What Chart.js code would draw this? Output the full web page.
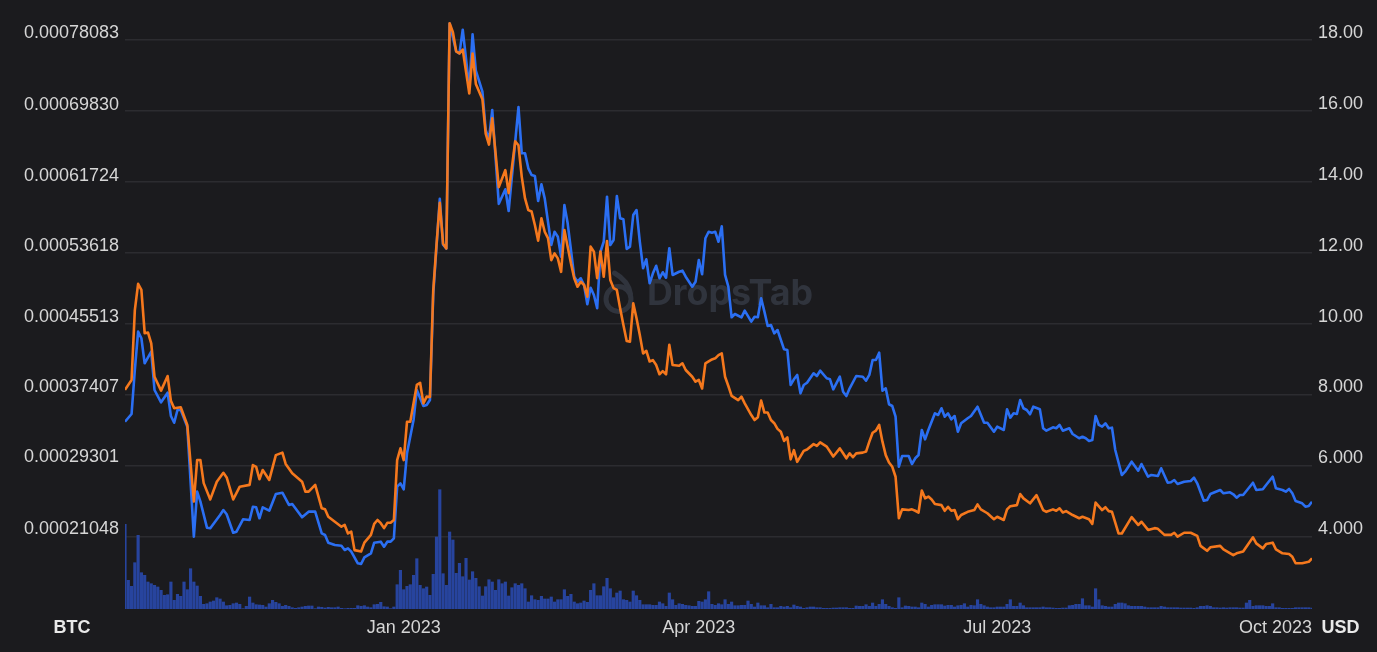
<!DOCTYPE html>
<html>
<head>
<meta charset="utf-8">
<script src="https://cdn.jsdelivr.net/npm/chart.js@4.4.1/dist/chart.umd.min.js"></script>
<style>
  html, body { margin: 0; padding: 0; background: #1b1b1e; }
  #wrap { width: 1377px; height: 652px; position: relative; }
</style>
</head>
<body>
<div id="wrap"><canvas id="c"></canvas></div>
<script>
// ---- data ----
const startDate = '2022-10-08';   // day 0 of the series

// price in USD (orange), day offsets from startDate
const usdDays = [0,2,3,4,5,6,7,8,9,11,13,14,15,17,19,21,22,23,24,26,28,30,31,33,35,38,39,40,41,42,44,46,48,49,51,54,55,56,58,60,61,62,64,66,67,68,69,70,72,73,75,76,77,78,79,80,81,82,83,84,85,86,87,88,89,90,91,92,93,94,95,96,97,98,99,100,101,102,103,105,106,107,109,110,111,112,114,116,117,119,120,121,122,123,124,125,126,127,128,129,130,131,132,133,134,135,136,137,138,139,140,141,142,143,144,145,146,147,148,149,150,151,152,153,154,155,156,157,158,159,160,161,162,163,164,165,166,167,169,170,171,173,174,175,176,177,179,180,181,182,183,184,185,187,188,189,191,192,193,194,195,196,197,198,199,200,201,202,203,204,205,207,208,210,211,212,214,215,216,218,219,220,221,222,223,225,226,227,228,229,230,231,232,233,234,235,236,237,239,240,241,242,243,244,245,246,247,249,250,251,252,253,254,255,257,259,260,261,263,265,266,268,269,270,272,273,274,276,278,279,280,281,283,284,285,286,287,289,291,292,294,295,296,298,299,300,301,303,304,307,309,310,312,314,315,317,319,320,321,323,325,327,328,330,331,334,335,338,339,341,344,345,347,348,350,351,353,355,356,357,359,361,362];
const usdPrice = [8.13,8.41,10.38,11.12,10.95,9.73,9.75,9.44,8.50,8.11,8.52,7.82,7.61,7.64,7.14,4.98,6.15,6.15,5.50,5.04,5.54,5.79,5.66,5.04,5.40,5.45,6.01,5.96,5.61,5.87,5.59,6.29,6.36,6.04,5.78,5.54,5.26,5.26,5.45,4.79,4.76,4.55,4.41,4.27,4.32,4.08,4.13,3.61,3.57,3.82,4.04,4.35,4.46,4.37,4.23,4.38,4.38,4.46,6.15,6.48,6.15,7.23,7.23,7.75,8.27,8.33,7.75,7.94,7.93,10.93,12.23,13.41,12.25,12.12,18.47,18.22,17.68,17.62,17.73,16.49,17.62,16.76,16.33,15.36,15.05,15.79,13.85,14.33,13.68,15.14,15.03,14.14,13.53,13.20,13.16,12.78,12.34,12.97,12.59,12.41,11.79,11.98,11.84,11.46,12.64,12.17,11.70,11.28,11.04,11.18,11.09,10.76,12.17,12.03,11.28,12.03,11.32,12.33,11.23,11.00,10.95,10.43,9.96,9.51,9.49,10.57,10.15,9.68,9.16,9.23,8.93,8.97,8.83,8.57,8.66,8.57,9.40,8.83,8.81,8.88,8.69,8.50,8.36,8.41,8.17,8.88,8.99,9.02,9.11,9.16,8.50,8.24,7.96,7.84,7.94,7.75,7.42,7.28,7.36,7.83,7.49,7.49,7.28,7.19,7.03,6.95,6.69,6.79,6.17,6.43,6.10,6.41,6.45,6.60,6.55,6.65,6.53,6.39,6.25,6.48,6.34,6.20,6.34,6.23,6.34,6.36,6.39,6.67,6.92,6.98,7.14,6.67,6.29,6.08,5.96,5.68,4.51,4.76,4.74,4.76,4.72,4.67,5.29,5.07,5.12,5.04,4.91,4.88,4.72,4.83,4.72,4.74,4.48,4.60,4.69,4.74,4.90,4.76,4.65,4.48,4.55,4.46,4.76,4.85,4.88,5.19,5.07,4.93,5.16,4.95,4.74,4.69,4.76,4.72,4.79,4.67,4.71,4.60,4.51,4.55,4.48,4.35,4.95,4.74,4.82,4.71,4.69,4.08,4.08,4.54,4.32,4.41,4.18,4.23,4.21,4.04,4.04,4.10,3.99,4.10,4.10,4.01,3.73,3.59,3.69,3.73,3.63,3.47,3.52,3.57,3.97,3.80,3.66,3.78,3.82,3.63,3.52,3.50,3.42,3.24,3.24,3.28,3.38];

// price in BTC (blue), in units of 1e-4 BTC
const btcDays = [0,2,3,4,5,6,8,9,11,13,14,15,16,17,19,21,22,23,25,26,29,30,31,33,34,36,38,39,40,41,42,44,46,48,50,51,54,56,58,60,61,62,64,66,67,68,69,71,72,73,75,76,78,79,80,81,82,83,84,85,86,88,89,91,92,93,94,96,97,98,99,101,102,103,105,106,107,109,110,111,112,114,116,117,120,121,122,123,124,125,126,127,128,129,130,131,132,133,134,135,136,137,138,139,140,141,142,143,144,145,146,147,148,149,150,151,152,153,154,155,156,157,158,159,160,161,162,163,164,165,166,167,169,170,171,173,174,175,176,177,178,179,180,181,182,183,184,185,186,188,189,191,192,193,194,195,196,197,198,199,201,202,203,204,205,206,207,208,210,211,212,214,215,216,218,219,220,221,223,225,226,227,228,229,230,231,232,233,234,235,236,237,239,240,241,242,243,244,245,247,248,249,250,251,252,253,254,255,257,258,260,262,263,265,266,268,269,270,271,272,273,274,275,276,277,279,280,281,283,284,285,286,288,289,291,292,293,294,295,296,297,298,299,300,301,302,304,305,307,309,310,312,313,315,316,318,319,320,321,323,325,326,327,329,330,331,334,335,337,338,339,340,341,344,345,347,348,350,351,353,354,355,356,357,359,360,361,362];
const btcPrice = [3.423,3.511,4.017,4.458,4.382,4.094,4.228,3.787,3.646,3.756,3.488,3.411,3.557,3.557,3.365,2.100,2.618,2.503,2.204,2.197,2.350,2.407,2.358,2.146,2.158,2.300,2.292,2.445,2.438,2.312,2.438,2.399,2.591,2.606,2.465,2.476,2.323,2.388,2.388,2.139,2.120,2.031,2.005,1.997,1.947,1.967,1.928,1.794,1.786,1.863,1.909,2.031,2.043,1.985,2.043,2.043,2.082,2.675,2.714,2.645,3.059,3.442,3.787,3.603,3.615,3.672,4.885,5.986,5.458,5.414,8.002,7.680,7.658,7.930,7.262,7.877,7.459,7.217,6.777,6.668,7.007,5.928,6.095,5.845,7.041,6.509,6.509,6.336,6.259,6.248,5.960,6.152,5.991,5.722,5.454,5.607,5.550,5.320,5.914,5.704,5.397,5.090,5.032,5.072,4.995,4.773,4.963,4.880,4.727,5.377,5.492,6.010,5.454,5.512,6.018,5.762,5.750,5.409,5.435,5.799,5.857,5.492,5.187,5.290,5.014,5.129,5.216,5.072,5.141,5.078,5.417,5.110,5.147,5.159,5.090,4.975,5.032,5.282,5.118,5.532,5.607,5.596,5.607,5.492,5.670,5.110,4.975,4.623,4.661,4.623,4.699,4.573,4.630,4.623,4.842,4.688,4.523,4.535,4.439,4.477,4.255,4.247,3.845,3.910,3.960,3.749,3.845,3.871,3.979,3.948,4.009,3.922,3.910,3.795,3.940,3.768,3.718,3.807,3.948,3.940,3.894,3.960,4.132,4.132,4.216,3.779,3.807,3.623,3.603,3.480,2.905,3.028,3.028,2.936,3.002,3.040,3.327,3.220,3.327,3.519,3.500,3.577,3.480,3.519,3.450,3.488,3.308,3.404,3.462,3.488,3.595,3.411,3.411,3.308,3.365,3.327,3.565,3.469,3.519,3.511,3.672,3.577,3.557,3.508,3.595,3.565,3.347,3.319,3.358,3.347,3.385,3.319,3.347,3.281,3.232,3.250,3.232,3.201,3.212,3.488,3.385,3.365,3.404,3.347,3.354,3.097,2.810,2.848,2.963,2.859,2.936,2.790,2.810,2.798,2.887,2.721,2.726,2.752,2.706,2.733,2.741,2.779,2.714,2.514,2.522,2.591,2.637,2.599,2.611,2.588,2.549,2.580,2.580,2.721,2.637,2.645,2.695,2.790,2.657,2.637,2.618,2.649,2.599,2.511,2.484,2.445,2.453,2.503];

// daily trading volume (relative units), one value per day from startDate
const volume = [84.7,28.7,22.7,46.3,73.7,36.3,33.7,27,25.3,23.7,22,18.7,13.7,14.3,27,8.7,14.7,12.7,27,19.3,40.3,27,23,12.7,4.7,5.3,7,8,11.3,10,7,3.3,3.7,5.3,6,4.7,0.3,2.7,12,6,4.3,4,3.7,2,5.3,8.7,6.7,5.3,2.7,3.7,2.7,1.3,0.7,1.3,2,2.7,3,3,0.3,2,1.7,1.0,1.7,1.3,1.3,2,0.7,0.3,0.7,0.7,0.7,3.3,2.7,3.3,2,1.3,4.3,4.7,6.7,2.3,2,0.3,2,24.3,38.7,19.3,22.7,24.3,33.7,50.3,23.7,20.3,22,13.7,34.7,72,119.3,
35.3,23.7,77,69,35.7,45.7,32.3,50.7,29,37.3,30.7,22.3,13,22.3,29.3,27,18.7,29.3,25.3,27,13,21.3,25.3,23.7,25.3,20.3,7,13.3,9.3,8.7,12.7,10,10,12,7,9.3,9.3,19.3,12.7,14.7,7,5.3,6,8,6.7,18.7,25.3,13.3,13.3,22.3,30.7,20.3,11.3,16,18,9.3,8.7,7,18,13.3,8.7,4.3,4.3,4.3,3.7,3.7,7,5.3,2.7,16,9.3,3.7,5.3,4.7,3.7,3.3,2.7,2.7,7.7,7,9.3,17.3,4.7,3.7,5.3,4.3,9.3,4.7,7,3.3,3.3,3.7,3.7,8,4.7,2,6,3.3,3.3,1.3,4.7,1.3,1.3,2.7,2,2.7,1.3,4,2.7,2,0.7,1.3,2,2,1.3,1.3,0.7,0.7,0.7,1,1.0,1.3,1.3,1.3,0.7,0.7,3,2.7,2.7,4.3,2.7,6,2.7,4.7,9.3,4.7,2.7,1.3,0.7,11.3,1.3,3,2.7,2,2,1.3,
6,4.7,2,3.7,4.3,4.3,4.3,3,3.7,3.7,2,3.3,3.7,5.3,2,3.7,3.3,9.3,4.7,3.3,2,1.3,1.3,2,2,2,4.7,9.3,2.7,2.7,6,3.3,1.3,1.3,1.3,1.3,1.3,2,1.3,1.3,1,0.7,0.7,1,1,3.3,3.7,4.7,4.7,10.3,3.3,3.3,2,20.3,9.3,3.3,2.7,2,2,4.7,6,6,5.3,3.3,2.7,2.7,2.7,2.7,2,1.3,1.3,1.3,1.3,2.7,2,1.3,1.3,1.3,1.3,1,1,1,1,0.7,1.3,2.7,2.7,3.3,2.7,1.3,1.3,1,1.3,1,1.3,1.3,1.3,1,1.0,6,8.7,2.7,3.3,3.3,3.3,2.7,2.7,5.3,1.3,1.3,0.7,0.7,0.7,0.7,1.3,1.3,1.3,1.3,1.3,1.0];

// axis tick labels
const btcTickLabels = ['0.00021048','0.00029301','0.00037407','0.00045513','0.00053618','0.00061724','0.00069830','0.00078083'];
const usdTickValues = [4, 6, 8, 10, 12, 14, 16, 18];
const usdTickLabels = ['4.000','6.000','8.000','10.00','12.00','14.00','16.00','18.00'];
const xTickDates = ['2023-01-01','2023-04-01','2023-07-01','2023-10-01'];
const xTickLabels = ['Jan 2023','Apr 2023','Jul 2023','Oct 2023'];

// ---- build datasets ----
const DAY = 86400000;
const dayOf = s => (Date.parse(s) - Date.parse(startDate)) / DAY;
const nU = Math.min(usdDays.length, usdPrice.length);
const nB = Math.min(btcDays.length, btcPrice.length);
const usdData = usdDays.slice(0, nU).map((d, i) => ({ x: d, y: usdPrice[i] }));
const btcData = btcDays.slice(0, nB).map((d, i) => ({ x: d, y: btcPrice[i] * 1e-4 }));
const volData = volume.map((v, i) => ({ x: i, y: v }));
const lastDay = volume.length - 1;

const FONT = '"Liberation Sans", Arial, Helvetica, sans-serif';
const TICK_COLOR = '#d6d6d6';

const watermark = {
  id: 'watermark',
  beforeDatasetsDraw(chart) {
    const { ctx, chartArea: a } = chart;
    const cx = (a.left + a.right) / 2, cy = (a.top + a.bottom) / 2;
    ctx.save();
    const col = '#30343d';
    ctx.fillStyle = col; ctx.strokeStyle = col;
    ctx.font = 'bold 34px Inter, ' + FONT;
    const w = ctx.measureText('DropsTab').width;
    const size = 34 * 166 / w;
    ctx.font = 'bold ' + size.toFixed(1) + 'px Inter, ' + FONT;
    ctx.textBaseline = 'alphabetic';
    ctx.textAlign = 'left';
    ctx.fillText('DropsTab', cx - 71.5, cy - 9);
    ctx.lineWidth = 5; ctx.lineCap = 'round';
    ctx.beginPath(); ctx.arc(cx - 100, cy - 15, 12.5, 0, Math.PI * 2); ctx.stroke();
    ctx.beginPath(); ctx.moveTo(cx - 104, cy - 41);
    ctx.quadraticCurveTo(cx - 90, cy - 33, cx - 88, cy - 20); ctx.stroke();
    ctx.restore();
  }
};

const axisText = {
  id: 'axisText',
  afterDraw(chart) {
    const { ctx, chartArea: a, scales } = chart;
    const y = a.bottom + 19.5;
    ctx.save();
    ctx.textBaseline = 'middle';
    ctx.font = '18px ' + FONT;
    ctx.fillStyle = TICK_COLOR;
    ctx.textAlign = 'left';
    xTickDates.forEach((d, i) => {
      const t = xTickLabels[i];
      const w = ctx.measureText(t).width;
      let left = scales.x.getPixelForValue(dayOf(d)) - w / 2;
      left = Math.min(left, a.right - w);
      ctx.fillText(t, left, y);
    });
    ctx.font = 'bold 18px ' + FONT;
    ctx.fillStyle = '#e9e9e9';
    ctx.textAlign = 'center';
    ctx.fillText('BTC', a.left - 53, y);
    ctx.fillText('USD', a.right + 28.5, y);
    ctx.restore();
  }
};

new Chart(document.getElementById('c'), {
  type: 'line',
  data: {
    datasets: [
      { label: 'Price (USD)', data: usdData, yAxisID: 'yUsd', borderColor: '#f5781d',
        borderWidth: 2.6, borderJoinStyle: 'round', pointRadius: 0, tension: 0, fill: false, order: 0 },
      { label: 'Price (BTC)', data: btcData, yAxisID: 'yBtc', borderColor: '#2b6ff3',
        borderWidth: 2.6, borderJoinStyle: 'round', pointRadius: 0, tension: 0, fill: false, order: 1 },
      { type: 'bar', label: 'Volume', data: volData, yAxisID: 'yVol',
        backgroundColor: '#27449e', barThickness: 2.5, order: 2 }
    ]
  },
  options: {
    responsive: true,
    maintainAspectRatio: false,
    animation: false,
    devicePixelRatio: 1,
    layout: { padding: { top: 19, bottom: 43, left: 0, right: 0 } },
    plugins: { legend: { display: false }, tooltip: { enabled: false } },
    scales: {
      x: { type: 'linear', min: 0, max: lastDay, offset: false, display: false },
      yBtc: {
        type: 'linear', position: 'left', min: 0.00012688, max: 0.00080533,
        afterFit(s) { s.width = 125; },
        afterBuildTicks(s) { s.ticks = btcTickLabels.map(t => ({ value: Number(t) })); },
        grid: { display: false, drawTicks: false },
        border: { display: false },
        ticks: { autoSkip: false, padding: 6, labelOffset: -7, color: TICK_COLOR,
          font: { family: FONT, size: 18 }, callback: (v, i) => btcTickLabels[i] }
      },
      yUsd: {
        type: 'linear', position: 'right', min: 1.949, max: 18.592,
        afterFit(s) { s.width = 65; },
        afterBuildTicks(s) { s.ticks = usdTickValues.map(v => ({ value: v })); },
        grid: { color: '#2c2c30', lineWidth: 1.5, drawTicks: false },
        border: { display: false },
        ticks: { autoSkip: false, padding: 6, labelOffset: -7, color: TICK_COLOR,
          font: { family: FONT, size: 18 }, callback: (v, i) => usdTickLabels[i] }
      },
      yVol: { type: 'linear', display: false, min: 0, max: 590 }
    }
  },
  plugins: [watermark, axisText]
});
</script>
</body>
</html>
